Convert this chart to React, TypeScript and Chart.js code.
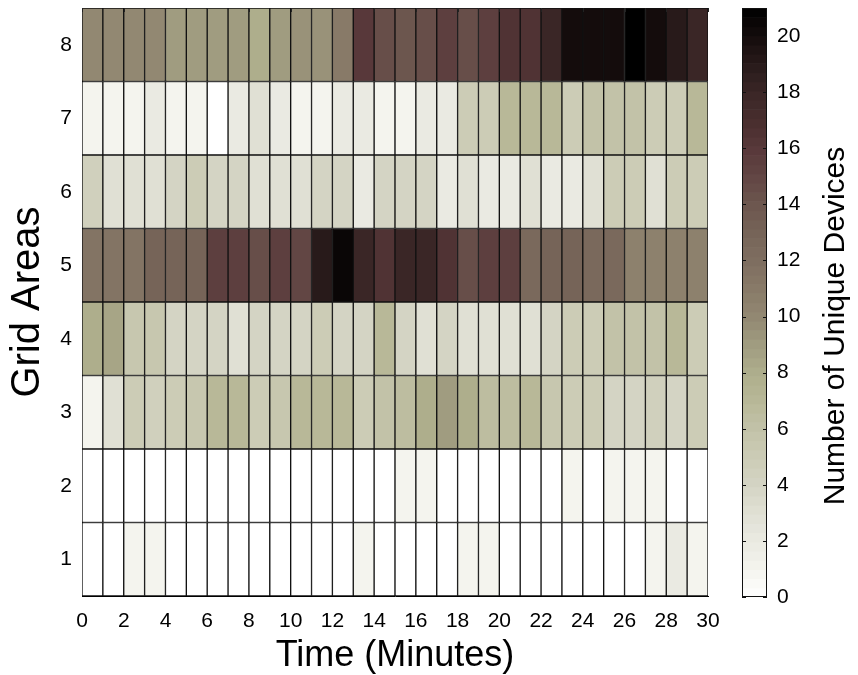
import React, { useEffect, useRef } from "react";
import { Chart, registerables } from "chart.js";

Chart.register(...registerables);

// Number of unique devices per grid area (rows) per minute (columns 0-1 ... 29-30)
const ROW_1 = [0, 0, 1, 1, 0, 0, 0, 0, 0, 0, 0, 0, 0, 1, 0, 0, 0, 0, 1, 1, 0, 0, 0, 0, 0, 0, 0, 1, 2, 1];
const ROW_2 = [0, 0, 0, 0, 0, 0, 0, 0, 0, 0, 0, 0, 0, 0, 0, 1, 1, 0, 0, 0, 0, 0, 0, 1, 0, 1, 1, 1, 0, 0];
const ROW_3 = [1, 3, 5, 4.5, 5, 5.5, 7, 7, 5, 5.5, 7, 7, 7, 5, 6, 6.5, 8, 9, 8, 6.5, 6.5, 7, 5.5, 5, 5, 4, 4, 4.5, 4, 5];
const ROW_4 = [8, 8.5, 5.5, 5.5, 4, 4, 4, 3, 4, 4, 4, 5, 4, 4, 7, 4, 3, 4, 3, 3, 3, 3, 4, 5, 5, 6, 6, 6, 7, 5];
const ROW_5 = [11.5, 11.5, 11.5, 13, 13, 13, 15.5, 15.5, 14.5, 15.5, 15, 19, 20.5, 18, 16.5, 18, 18, 16.5, 14.5, 15.5, 15.5, 12.5, 13, 13, 12.5, 12.5, 10.5, 10.5, 10.5, 10.5];
const ROW_6 = [4.5, 3, 3, 3, 4, 5, 4, 4, 3, 3, 3, 4, 4, 2, 4, 4, 4, 2, 3, 2, 2, 3, 2, 2, 3, 5, 5, 3, 5, 5];
const ROW_7 = [1, 1, 1, 2, 1, 1, 0, 2, 3, 2, 1, 1, 2, 2, 1, 1, 2, 2, 5, 5, 7, 7, 7, 5, 6, 6, 6, 5, 5, 7];
const ROW_8 = [10, 10, 10, 10, 9, 9, 9, 9, 8, 9, 9.5, 9.5, 11, 16, 14.5, 14, 14.5, 15.5, 14.5, 15.5, 16.5, 16.5, 18, 20, 20, 20, 21, 20, 19, 18];

const ROW_LABELS = [1, 2, 3, 4, 5, 6, 7, 8];
const X_TICKS = [0, 2, 4, 6, 8, 10, 12, 14, 16, 18, 20, 22, 24, 26, 28, 30];
const CBAR_TICKS = [0, 2, 4, 6, 8, 10, 12, 14, 16, 18, 20];
const CBAR_MAX = 21;

// colormap stops: value -> rgb
const CMAP_VALUES = [0, 1, 2, 3, 4, 5, 6, 7, 8, 9, 10, 11, 12, 13, 14, 15, 16, 17, 18, 19, 20, 21];
const CMAP_COLORS = [
  [255, 255, 255], [244, 244, 238], [234, 234, 226], [224, 224, 212], [212, 212, 196],
  [204, 204, 182], [194, 194, 168], [184, 184, 152], [174, 174, 140], [160, 156, 128],
  [146, 136, 114], [136, 122, 104], [126, 110, 96], [118, 100, 88], [108, 86, 78],
  [98, 70, 68], [88, 56, 58], [72, 46, 46], [58, 38, 38], [40, 26, 26], [20, 12, 12], [0, 0, 0],
];

const FONT = "'Liberation Sans', Arial, Helvetica, sans-serif";

function colorFor(v: number): string {
  const vv = Math.max(0, Math.min(CBAR_MAX, v));
  let i = 0;
  while (i < CMAP_VALUES.length - 2 && vv > CMAP_VALUES[i + 1]) i++;
  const t = (vv - CMAP_VALUES[i]) / (CMAP_VALUES[i + 1] - CMAP_VALUES[i]);
  const a = CMAP_COLORS[i];
  const b = CMAP_COLORS[i + 1];
  const c = a.map((x, k) => Math.round(x + (b[k] - x) * t));
  return `rgb(${c[0]},${c[1]},${c[2]})`;
}

export default function App() {
  const mainRef = useRef<HTMLCanvasElement>(null);
  const barRef = useRef<HTMLCanvasElement>(null);

  useEffect(() => {
    const rows = [ROW_1, ROW_2, ROW_3, ROW_4, ROW_5, ROW_6, ROW_7, ROW_8];
    const datasets = rows.map((vals, ri) => ({
      label: "Area " + ROW_LABELS[ri],
      data: vals.map((_, ci) => ({ x: ci + 0.5, y: [ROW_LABELS[ri] - 0.5, ROW_LABELS[ri] + 0.5] })),
      backgroundColor: vals.map(colorFor),
      borderColor: "#111111",
      borderWidth: 1,
      borderSkipped: false as const,
      barPercentage: 1,
      categoryPercentage: 1,
      grouped: false,
    }));

    const edgeTicks = {
      id: "edgeTicks",
      afterDatasetsDraw(chart: any) {
        const { ctx, chartArea, scales } = chart;
        ctx.save();
        ctx.strokeStyle = "#222";
        ctx.lineWidth = 1;
        ctx.beginPath();
        X_TICKS.forEach((t) => {
          const p = Math.round(scales.x.getPixelForValue(t)) + 0.5;
          ctx.moveTo(p, chartArea.top);
          ctx.lineTo(p, chartArea.top + 4);
        });
        ctx.stroke();
        ctx.restore();
      },
    };

    const main = new Chart(mainRef.current as HTMLCanvasElement, {
      type: "bar",
      data: { datasets: datasets as any },
      options: {
        animation: false,
        responsive: false,
        maintainAspectRatio: false,
        layout: { padding: { left: 0, right: 22, top: 8, bottom: 0 } },
        plugins: { legend: { display: false }, tooltip: { enabled: false } },
        scales: {
          x: {
            type: "linear",
            min: 0,
            max: 30,
            offset: false,
            grid: { display: false, drawTicks: false },
            border: { display: true, color: "#000" },
            afterBuildTicks: (s: any) => { s.ticks = X_TICKS.map((v) => ({ value: v })); },
            afterFit: (s: any) => { s.height = 79; s.paddingLeft = 0; s.paddingRight = 0; },
            ticks: { color: "#000", font: { family: FONT, size: 21 }, padding: 13, maxRotation: 0, autoSkip: false },
            title: { display: true, text: "Time (Minutes)", color: "#000", font: { family: FONT, size: 36 }, padding: { top: 0, bottom: -3 } },
          },
          y: {
            type: "linear",
            min: 0.5,
            max: 8.5,
            grid: { display: false, drawTicks: false },
            border: { display: true, color: "#000" },
            afterBuildTicks: (s: any) => { s.ticks = ROW_LABELS.map((v) => ({ value: v })); },
            afterFit: (s: any) => { s.width = 82; s.paddingTop = 0; s.paddingBottom = 0; },
            ticks: { color: "#000", font: { family: FONT, size: 21 }, padding: 10, autoSkip: false },
            title: { display: true, text: "Grid Areas", color: "#000", font: { family: FONT, size: 40 }, padding: 4 },
          },
        },
      },
      plugins: [edgeTicks],
    });

    const cbarPlugin = {
      id: "cbar",
      beforeDatasetsDraw(chart: any) {
        const { ctx, chartArea, scales } = chart;
        const y = scales.y;
        const levels = 64;
        ctx.save();
        for (let i = 0; i < levels; i++) {
          const v0 = (i * CBAR_MAX) / levels;
          const v1 = ((i + 1) * CBAR_MAX) / levels;
          const p0 = y.getPixelForValue(v0);
          const p1 = y.getPixelForValue(v1);
          ctx.fillStyle = colorFor((v0 + v1) / 2);
          ctx.fillRect(chartArea.left, p1, chartArea.right - chartArea.left, p0 - p1 + 0.6);
        }
        ctx.strokeStyle = "#111";
        ctx.lineWidth = 1;
        ctx.strokeRect(chartArea.left + 0.5, chartArea.top + 0.5, chartArea.right - chartArea.left - 1, chartArea.bottom - chartArea.top - 1);
        ctx.beginPath();
        CBAR_TICKS.forEach((t) => {
          const p = Math.round(y.getPixelForValue(t)) + 0.5;
          ctx.moveTo(chartArea.left, p);
          ctx.lineTo(chartArea.left + 4, p);
          ctx.moveTo(chartArea.right - 4, p);
          ctx.lineTo(chartArea.right, p);
        });
        ctx.stroke();
        // axis title, reading bottom-to-top
        ctx.fillStyle = "#000";
        ctx.font = `30px ${FONT}`;
        ctx.textAlign = "center";
        ctx.textBaseline = "middle";
        ctx.translate(836, 326);
        ctx.rotate(-Math.PI / 2);
        ctx.fillText("Number of Unique Devices", 0, 0);
        ctx.restore();
      },
    };

    const cbar = new Chart(barRef.current as HTMLCanvasElement, {
      type: "scatter",
      data: { datasets: [{ data: [] }] },
      options: {
        animation: false,
        responsive: false,
        maintainAspectRatio: false,
        layout: { padding: { left: 742, right: 0, top: 8, bottom: 78 } },
        plugins: { legend: { display: false }, tooltip: { enabled: false } },
        scales: {
          x: { display: false, min: 0, max: 1 },
          y: {
            position: "right",
            min: 0,
            max: CBAR_MAX,
            grid: { display: false, drawTicks: false },
            border: { display: false },
            afterBuildTicks: (s: any) => { s.ticks = CBAR_TICKS.map((v) => ({ value: v })); },
            afterFit: (s: any) => { s.width = 858 - 767; s.paddingTop = 0; s.paddingBottom = 0; },
            ticks: { color: "#000", font: { family: FONT, size: 21 }, padding: 10, autoSkip: false },
          },
        },
      },
      plugins: [cbarPlugin],
    });

    return () => {
      main.destroy();
      cbar.destroy();
    };
  }, []);

  return (
    <div style={{ position: "fixed", left: 0, top: 0, width: 858, height: 675, background: "#fff" }}>
      <canvas ref={barRef} width={858} height={675} style={{ position: "absolute", left: 0, top: 0 }} />
      <canvas ref={mainRef} width={730} height={675} style={{ position: "absolute", left: 0, top: 0 }} />
    </div>
  );
}
